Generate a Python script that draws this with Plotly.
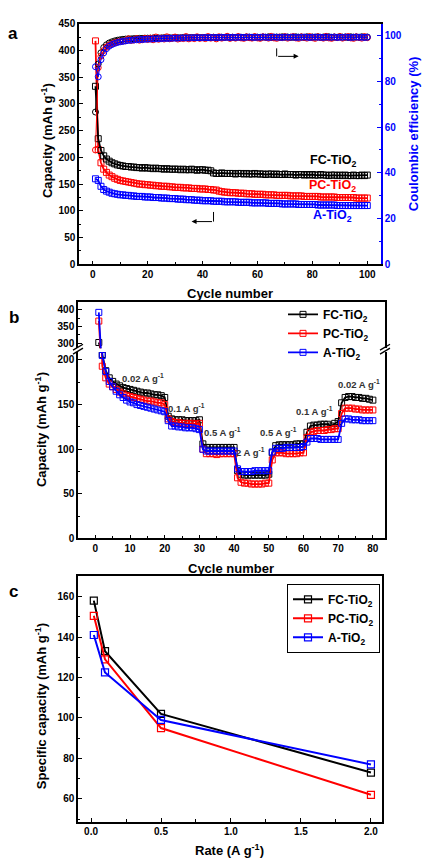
import plotly.graph_objects as go

W, H = 422, 863
def px(x): return x / W
def py(y): return 1 - y / H

FONT = "Liberation Sans, Arial, sans-serif"
BLACK, RED, BLUE = "#000000", "#ff0000", "#0000ff"

# ---------------- Panel a data ----------------
cycles_a = list(range(1, 101))
cap_fc = [333, 235, 213, 203, 197, 193, 190, 188, 186, 185,
          184, 183, 183, 182, 182, 181, 181, 180, 181, 180,
          180, 179, 180, 179, 179, 178, 179, 178, 178, 178,
          178, 177, 178, 177, 177, 178, 177, 176, 177, 177,
          176, 176, 175, 171, 170, 170, 171, 170, 170, 170,
          170, 169, 170, 170, 169, 170, 169, 169, 170, 169,
          169, 169, 168, 169, 169, 168, 169, 168, 168, 169,
          168, 168, 168, 167, 168, 168, 167, 168, 167, 168,
          167, 167, 168, 167, 167, 166, 167, 167, 166, 167,
          166, 167, 166, 166, 167, 166, 166, 167, 166, 167]
cap_pc = [418, 215, 190, 178, 172, 167, 164, 161, 159, 157,
          156, 155, 154, 153, 152, 151, 150, 150, 149, 149,
          148, 148, 147, 147, 146, 146, 146, 145, 145, 144,
          144, 144, 143, 143, 143, 142, 142, 142, 141, 141,
          141, 140, 140, 139, 139, 137, 136, 135, 135, 134,
          134, 134, 133, 133, 133, 132, 132, 132, 131, 131,
          131, 131, 130, 130, 130, 130, 129, 129, 129, 129,
          129, 128, 128, 128, 128, 128, 127, 127, 127, 127,
          127, 127, 126, 126, 126, 126, 126, 126, 125, 125,
          125, 125, 125, 125, 125, 124, 124, 124, 124, 124]
cap_a = [160, 157, 146, 140, 137, 135, 133, 132, 131, 130,
         130, 129, 129, 128, 128, 127, 127, 127, 126, 126,
         126, 125, 125, 125, 124, 124, 124, 123, 123, 123,
         122, 122, 122, 121, 121, 121, 120, 120, 120, 119,
         119, 119, 119, 118, 118, 118, 118, 117, 117, 117,
         117, 117, 116, 116, 116, 116, 116, 115, 115, 115,
         115, 115, 115, 114, 114, 114, 114, 114, 113, 113,
         113, 113, 113, 113, 112, 112, 112, 112, 112, 112,
         112, 111, 111, 111, 111, 111, 111, 111, 110, 110,
         110, 110, 110, 110, 110, 110, 110, 110, 110, 110]
ce_fc = [66.6, 87.6, 92.5, 94.8, 96.0, 96.8, 97.3, 97.7, 98.0, 98.2,
         98.4, 98.5, 98.6, 98.6, 98.7, 98.7, 98.8, 98.8, 98.9, 98.9,
         98.9, 99.0, 98.9, 99.0, 99.0, 99.1, 99.0, 99.1, 99.0, 99.1,
         99.1, 99.0, 99.2, 99.1, 99.1, 99.2, 99.1, 99.2, 99.1, 99.2,
         99.2, 99.1, 99.2, 99.3, 99.1, 99.2, 99.3, 99.2, 99.4, 99.2,
         99.3, 99.2, 99.4, 99.3, 99.2, 99.4, 99.3, 99.2, 99.4, 99.3,
         99.2, 99.4, 99.3, 99.5, 99.2, 99.3, 99.4, 99.2, 99.5, 99.3,
         99.4, 99.2, 99.3, 99.5, 99.3, 99.4, 99.2, 99.5, 99.3, 99.4,
         99.3, 99.5, 99.2, 99.4, 99.3, 99.5, 99.2, 99.4, 99.3, 99.5,
         99.3, 99.4, 99.2, 99.5, 99.3, 99.4, 99.3, 99.5, 99.3, 99.4]
ce_pc = [50.0, 86.0, 91.0, 93.5, 95.0, 95.8, 96.4, 96.9, 97.2, 97.5,
         97.6, 97.8, 98.6, 97.9, 98.1, 98.7, 98.0, 98.2, 98.8, 98.3,
         98.9, 98.2, 99.4, 98.4, 98.9, 98.5, 99.5, 98.6, 98.8, 99.4,
         98.5, 99.0, 98.7, 99.6, 98.6, 99.1, 98.7, 99.5, 98.8, 99.2,
         98.7, 99.6, 98.9, 99.3, 98.6, 99.5, 98.9, 99.2, 99.7, 98.8,
         99.3, 98.9, 99.6, 99.0, 98.8, 99.5, 99.1, 98.9, 99.6, 99.0,
         98.8, 99.5, 99.2, 98.9, 99.7, 99.0, 98.8, 99.4, 99.1, 99.6,
         98.9, 99.3, 99.6, 99.0, 98.8, 99.5, 99.2, 98.9, 99.6, 99.1,
         98.8, 99.5, 99.2, 98.9, 99.7, 99.0, 98.8, 99.4, 99.1, 99.6,
         98.9, 99.3, 99.6, 99.0, 98.8, 99.5, 99.2, 98.9, 99.6, 99.1]
ce_a = [86.4, 82.0, 89.5, 92.5, 94.3, 95.4, 96.1, 96.6, 97.0, 97.3,
        97.5, 97.7, 97.9, 98.0, 98.1, 98.2, 98.3, 98.3, 98.4, 98.5,
        98.5, 98.6, 98.6, 98.7, 98.7, 98.8, 98.8, 98.8, 98.9, 98.9,
        98.9, 99.0, 99.0, 99.0, 99.0, 99.1, 99.1, 99.1, 99.1, 99.1,
        99.2, 99.1, 99.2, 99.2, 99.2, 99.2, 99.3, 99.2, 99.3, 99.2,
        99.3, 99.2, 99.3, 99.3, 99.2, 99.3, 99.4, 99.3, 99.2, 99.3,
        99.3, 99.4, 99.3, 99.2, 99.3, 99.4, 99.3, 99.3, 99.2, 99.4,
        99.3, 99.3, 99.4, 99.2, 99.3, 99.3, 99.4, 99.3, 99.2, 99.3,
        99.4, 99.3, 99.3, 99.2, 99.4, 99.3, 99.3, 99.4, 99.2, 99.3,
        99.3, 99.4, 99.3, 99.2, 99.3, 99.4, 99.3, 99.3, 99.2, 99.3]

# ---------------- Panel b data ----------------
cycles_b = list(range(1, 81))
rate_fc = [302, 206, 188, 180, 176, 173, 171, 169, 168, 167,
           166, 165, 164, 163, 163, 162, 161, 161, 160, 158,
           137, 134, 133, 133, 133, 132, 132, 132, 132, 133,
           106, 102, 102, 102, 102, 102, 102, 102, 102, 102,
           76, 72, 71, 71, 71, 71, 71, 71, 71, 72,
           96, 104, 105, 105, 105, 105, 105, 106, 106, 106,
           119, 126, 127, 127, 128, 128, 128, 126, 129, 131,
           152, 158, 159, 159, 158, 158, 157, 157, 156, 155]
rate_pc = [366, 193, 180, 173, 170, 167, 164, 162, 160, 159,
           158, 157, 156, 155, 154, 154, 153, 152, 152, 150,
           134, 131, 130, 130, 129, 129, 129, 129, 128, 129,
           100, 95, 95, 95, 94, 95, 95, 95, 95, 95,
           68, 63, 62, 62, 61, 61, 61, 61, 62, 62,
           88, 96, 96, 96, 95, 95, 95, 95, 96, 96,
           113, 119, 120, 121, 121, 121, 122, 122, 123, 123,
           140, 146, 146, 146, 145, 145, 144, 144, 144, 144]
rate_a = [392, 205, 187, 176, 170, 165, 161, 158, 155, 153,
          152, 150, 149, 148, 147, 146, 145, 144, 143, 142,
          132, 126, 126, 125, 125, 124, 124, 124, 123, 122,
          100, 98, 98, 98, 98, 98, 98, 98, 98, 98,
          78, 75, 75, 75, 75, 76, 76, 76, 76, 76,
          97, 101, 101, 101, 102, 102, 102, 102, 102, 103,
          108, 112, 112, 112, 111, 111, 111, 111, 111, 111,
          129, 134, 134, 133, 133, 133, 132, 132, 132, 132]
rate_labels = ["0.02 A g<sup>-1</sup>", "0.1 A g<sup>-1</sup>", "0.5 A g<sup>-1</sup>",
               "2 A g<sup>-1</sup>", "0.5 A g<sup>-1</sup>", "0.1 A g<sup>-1</sup>",
               "0.02 A g<sup>-1</sup>"]
rate_label_x = [13.6, 26.4, 36.7, 44.8, 52.9, 63.3, 76.0]
rate_label_y = [180, 146, 119, 97, 119, 143, 173]

# ---------------- Panel c data ----------------
rates = [0.02, 0.1, 0.5, 2.0]
spec_fc = [158, 133, 102, 73]
spec_pc = [150.5, 129, 95, 62]
spec_a = [141, 122.5, 99, 77]

names = ["FC-TiO<sub>2</sub>", "PC-TiO<sub>2</sub>", "A-TiO<sub>2</sub>"]
colors = [BLACK, RED, BLUE]

fig = go.Figure()

# Panel a
for ce, c in zip([ce_fc, ce_pc, ce_a], colors):
    fig.add_trace(go.Scatter(x=cycles_a, y=ce, xaxis="x", yaxis="y2", mode="lines+markers",
                             line=dict(color=c, width=1),
                             marker=dict(symbol="circle-open", size=6, color=c, line=dict(width=1)),
                             showlegend=False))
for cap, c in zip([cap_a, cap_pc, cap_fc], [BLUE, RED, BLACK]):
    fig.add_trace(go.Scatter(x=cycles_a, y=cap, xaxis="x", yaxis="y", mode="lines+markers",
                             line=dict(color=c, width=1.8),
                             marker=dict(symbol="square-open", size=6, color=c, line=dict(width=1)),
                             showlegend=False))

# Panel b (lower and upper segment)
for vals, c, n in zip([rate_fc, rate_pc, rate_a], colors, names):
    fig.add_trace(go.Scatter(x=cycles_b, y=vals, xaxis="x2", yaxis="y3", mode="lines+markers",
                             line=dict(color=c, width=1.8), name=n, legend="legend",
                             marker=dict(symbol="square-open", size=6, color=c, line=dict(width=1))))
    fig.add_trace(go.Scatter(x=cycles_b, y=vals, xaxis="x3", yaxis="y4", mode="lines+markers",
                             line=dict(color=c, width=1.8), showlegend=False,
                             marker=dict(symbol="square-open", size=6, color=c, line=dict(width=1))))

# Panel c
for vals, c, n in zip([spec_fc, spec_pc, spec_a], colors, names):
    fig.add_trace(go.Scatter(x=rates, y=vals, xaxis="x4", yaxis="y5", mode="lines+markers",
                             line=dict(color=c, width=2), name=n, legend="legend2",
                             marker=dict(symbol="square-open", size=7, color=c, line=dict(width=1.2))))

tf = dict(family=FONT, size=10, color=BLACK, weight="bold")
def ax(**kw):
    d = dict(showline=True, linecolor=BLACK, linewidth=1.5, ticks="inside", ticklen=4,
             tickwidth=1.2, tickcolor=BLACK, tickfont=tf, showgrid=False, zeroline=False,
             minor=dict(ticks="inside", ticklen=2.5, tickwidth=1, tickcolor=BLACK))
    d.update(kw)
    return d

layout = dict(
    width=W, height=H, margin=dict(l=0, r=0, t=0, b=0),
    paper_bgcolor="white", plot_bgcolor="white",
    font=dict(family=FONT, weight="bold", color=BLACK),
    # panel a
    xaxis=ax(domain=[px(79), px(381)], range=[-5, 105], anchor="y", dtick=20, tick0=0,
             mirror=True, minor=dict(ticks="inside", ticklen=2.5, dtick=10, tickcolor=BLACK)),
    yaxis=ax(domain=[py(262), py(18)], range=[0, 450], anchor="x", dtick=50, tick0=0,
             minor=dict(ticks="inside", ticklen=2.5, dtick=25, tickcolor=BLACK)),
    yaxis2=ax(domain=[py(262), py(18)], range=[0, 105.2], anchor="x", overlaying="y", side="right",
              dtick=20, tick0=0, linecolor=BLUE, tickcolor=BLUE,
              tickfont=dict(family=FONT, size=10, color=BLUE, weight="bold"),
              minor=dict(ticks="inside", ticklen=2.5, dtick=10, tickcolor=BLUE)),
    # panel b
    xaxis2=ax(domain=[px(78), px(385)], range=[-5, 83.5], anchor="y3", dtick=10, tick0=0,
              minor=dict(ticks="inside", ticklen=2.5, dtick=5, tickcolor=BLACK)),
    xaxis3=dict(domain=[px(78), px(385)], range=[-5, 83.5], anchor="y4", side="top",
                showline=True, linecolor=BLACK, linewidth=1.5, showticklabels=False, ticks="",
                showgrid=False, zeroline=False),
    yaxis3=ax(domain=[py(540), py(351)], range=[0, 208.8], anchor="x2", dtick=50, tick0=0,
              mirror=True, minor=dict(ticks="inside", ticklen=2.5, dtick=25, tickcolor=BLACK)),
    yaxis4=ax(domain=[py(347), py(300)], range=[285, 423.5], anchor="x3",
              tickvals=[300, 350, 400], mirror=True,
              minor=dict(ticks="inside", ticklen=2.5, tickvals=[325, 375], tickcolor=BLACK)),
    # panel c
    xaxis4=ax(domain=[px(78), px(382)], range=[-0.093, 2.079], anchor="y5", dtick=0.5, tick0=0,
              tickformat=".1f", mirror=True,
              minor=dict(ticks="inside", ticklen=2.5, dtick=0.25, tickcolor=BLACK)),
    yaxis5=ax(domain=[py(827), py(578)], range=[48.8, 170.2], anchor="x4", dtick=20, tick0=0,
              mirror=True, minor=dict(ticks="inside", ticklen=2.5, dtick=10, tickcolor=BLACK)),
    legend=dict(x=px(283), y=py(298), xanchor="left", yanchor="top", bgcolor="rgba(0,0,0,0)",
                borderwidth=0, itemwidth=30,
                font=dict(family=FONT, size=12, color=BLACK, weight="bold")),
    legend2=dict(x=px(287), y=py(586), xanchor="left", yanchor="top", bgcolor="white",
                 bordercolor=BLACK, borderwidth=1, itemwidth=30,
                 font=dict(family=FONT, size=12, color=BLACK, weight="bold")),
)
fig.update_layout(**layout)

ann = []
def txt(x, y, s, size=13, color=BLACK, angle=0, xref="paper", yref="paper"):
    ann.append(dict(x=x, y=y, xref=xref, yref=yref, text=s, showarrow=False, textangle=angle,
                    font=dict(family=FONT, size=size, color=color, weight="bold"),
                    xanchor="center", yanchor="middle"))

# panel letters
txt(px(13.5), py(28), "a", size=17)
txt(px(14), py(316), "b", size=17)
txt(px(13), py(594), "c", size=17)
# axis titles
txt(px(47), py(137), "Capacity (mAh g<sup>-1</sup>)", angle=-90)
txt(px(413), py(130), "Coulombic efficiency (%)", color=BLUE, angle=-90)
txt(px(230), py(292), "Cycle number")
txt(px(41), py(430), "Capacity (mAh g<sup>-1</sup>)", angle=-90)
txt(px(231), py(570), "Cycle number")
txt(px(41), py(710), "Specific capacity (mAh g<sup>-1</sup>)", angle=-90)
txt(px(230), py(856), "Rate (A g<sup>-1</sup>)")
# sample labels panel a
txt(87.5, 194, "FC-TiO<sub>2</sub>", size=12.5, color=BLACK, xref="x", yref="y")
txt(87.5, 146, "PC-TiO<sub>2</sub>", size=12.5, color=RED, xref="x", yref="y")
txt(87.5, 90, "A-TiO<sub>2</sub>", size=12.5, color=BLUE, xref="x", yref="y")
# rate labels panel b
for lx, ly, s in zip(rate_label_x, rate_label_y, rate_labels):
    txt(lx, ly, s, size=9.5, color="#333333", xref="x2", yref="y3")

# arrows panel a
ann.append(dict(x=75, y=389, ax=67, ay=389, xref="x", yref="y", axref="x", ayref="y",
                showarrow=True, arrowhead=2, arrowsize=1, arrowwidth=1, arrowcolor=BLACK, text=""))
ann.append(dict(x=36, y=80, ax=44, ay=80, xref="x", yref="y", axref="x", ayref="y",
                showarrow=True, arrowhead=2, arrowsize=1, arrowwidth=1, arrowcolor=BLACK, text=""))
fig.update_layout(annotations=ann)

shapes = [
    dict(type="line", xref="x", yref="y", x0=67, y0=404, x1=67, y1=389, line=dict(color=BLACK, width=1)),
    dict(type="line", xref="x", yref="y", x0=44, y0=98, x1=44, y1=80, line=dict(color=BLACK, width=1)),
]
# axis break marks panel b
for bx in (78, 385):
    for dy in (-2, 2):
        shapes.append(dict(type="line", xref="paper", yref="paper",
                           x0=px(bx - 5), y0=py(351 + dy), x1=px(bx + 5), y1=py(345 + dy),
                           line=dict(color=BLACK, width=1.3)))
fig.update_layout(shapes=shapes)

fig.write_html("out.html")
